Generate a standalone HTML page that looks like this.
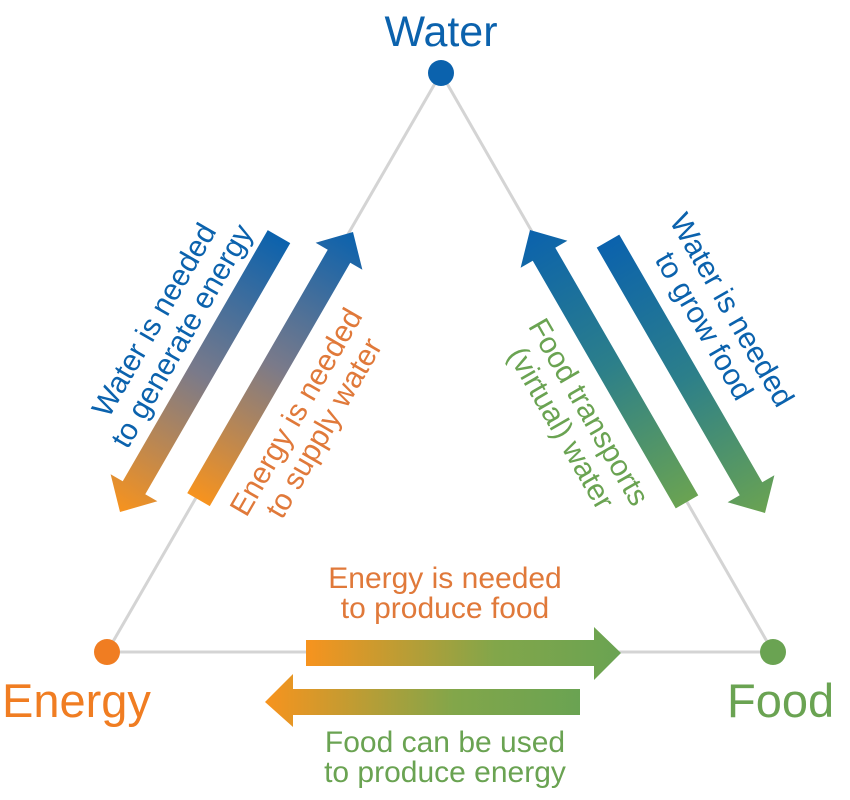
<!DOCTYPE html>
<html><head><meta charset="utf-8"><style>html,body{margin:0;padding:0;background:#fff}svg{display:block}</style></head>
<body>
<svg width="850" height="800" viewBox="0 0 850 800" xmlns="http://www.w3.org/2000/svg" font-family="'Liberation Sans', sans-serif">
<defs>
<linearGradient id="bo" x1="0" y1="0" x2="1" y2="0"><stop offset="0" stop-color="#0b62ad"/><stop offset="0.5" stop-color="#7a7a8a"/><stop offset="1" stop-color="#f7931e"/></linearGradient>
<linearGradient id="ob" x1="0" y1="0" x2="1" y2="0"><stop offset="0" stop-color="#f7931e"/><stop offset="0.5" stop-color="#7a7a8a"/><stop offset="1" stop-color="#0b62ad"/></linearGradient>
<linearGradient id="gb" x1="0" y1="0" x2="1" y2="0"><stop offset="0" stop-color="#6aa352"/><stop offset="0.5" stop-color="#2c7f8a"/><stop offset="1" stop-color="#0b62ad"/></linearGradient>
<linearGradient id="bg" x1="0" y1="0" x2="1" y2="0"><stop offset="0" stop-color="#0b62ad"/><stop offset="0.5" stop-color="#2c7f8a"/><stop offset="1" stop-color="#6aa352"/></linearGradient>
<linearGradient id="og" x1="0" y1="0" x2="1" y2="0"><stop offset="0" stop-color="#f7931e"/><stop offset="0.6" stop-color="#82a64a"/><stop offset="1" stop-color="#6aa352"/></linearGradient>
</defs>
<g stroke="#d4d4d4" stroke-width="3" fill="none">
<line x1="441" y1="73" x2="107" y2="652"/><line x1="107" y1="652" x2="773" y2="652"/><line x1="773" y1="652" x2="441" y2="73"/>
</g>
<circle cx="441" cy="73" r="13" fill="#0b62ad"/>
<circle cx="107" cy="652" r="13" fill="#f07d22"/>
<circle cx="773" cy="652" r="13" fill="#6aa352"/>

<g transform="translate(120,512) rotate(120)"><polygon points="0,0 -28,-27 -28,-13 -318,-13 -318,13 -28,13 -28,27" fill="url(#bo)"/></g>
<g transform="translate(353,232) rotate(-60)"><polygon points="0,0 -28,-27 -28,-13 -309,-13 -309,13 -28,13 -28,27" fill="url(#ob)"/></g>
<g transform="translate(530,230) rotate(-120)"><polygon points="0,0 -28,-27 -28,-13 -314,-13 -314,13 -28,13 -28,27" fill="url(#gb)"/></g>
<g transform="translate(765,513) rotate(60)"><polygon points="0,0 -28,-27 -28,-13 -314,-13 -314,13 -28,13 -28,27" fill="url(#bg)"/></g>
<polygon points="306,640 594,640 594,627 621,653 594,680 594,666 306,666" fill="url(#og)"/>
<polygon points="580,689 293,689 293,674 265,702 293,727 293,715 580,715" fill="url(#og)"/>

<text x="441" y="46" text-anchor="middle" font-size="43" fill="#0b62ad">Water</text>
<text x="2" y="717" font-size="47" fill="#f07d22">Energy</text>
<text x="727" y="717" font-size="47" fill="#6aa352">Food</text>

<g font-size="30" text-anchor="middle">
<g transform="translate(168,328) rotate(-60)" fill="#0b62ad"><text y="-6">Water is needed</text><text y="26">to generate energy</text></g>
<g transform="translate(310,420) rotate(-60)" fill="#e0793a"><text y="-6">Energy is needed</text><text y="26">to supply water</text></g>
<g transform="translate(718,318) rotate(60)" fill="#0b62ad"><text y="-6">Water is needed</text><text y="26">to grow food</text></g>
<g transform="translate(575,420) rotate(60)" fill="#6aa352"><text y="-6">Food transports</text><text y="26">(virtual) water</text></g>
<g fill="#e0793a"><text x="445" y="588">Energy is needed</text><text x="445" y="618">to produce food</text></g>
<g fill="#6aa352"><text x="445" y="752">Food can be used</text><text x="445" y="782">to produce energy</text></g>
</g>
</svg>
</body></html>
